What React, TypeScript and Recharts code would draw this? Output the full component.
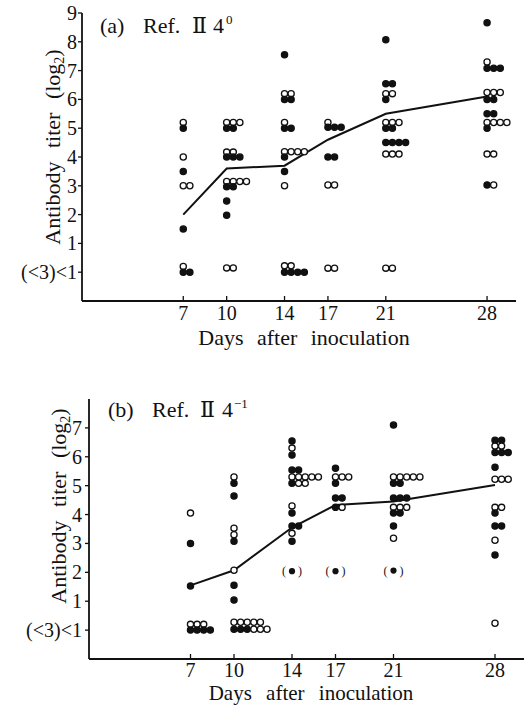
import { ComposedChart, Line, Scatter, XAxis, YAxis } from "recharts";

const ink = "#111";
const serif = "'Liberation Serif', 'DejaVu Serif', serif";

const days = [7, 10, 14, 17, 21, 28];
const meanA = [2.0, 3.6, 3.7, 4.6, 5.5, 6.1];
const meanB = [1.55, 2.07, 3.55, 4.33, 4.45, 5.02];
const ticksA = [0, 1, 2, 3, 4, 5, 6, 7, 8, 9];
const ticksB = [0, 1, 2, 3, 4, 5, 6, 7];
const lowLabel = "(<3)<1";

// [day, titer, marks left to right]  o = open circle, f = filled circle
const rowsA: [number, number, string][] = [
  [7, 5.2, "o"], [7, 5.0, "f"], [7, 4.0, "o"], [7, 3.5, "f"], [7, 3.0, "oo"],
  [7, 1.5, "f"], [7, 0.2, "o"], [7, 0, "ff"],
  [10, 5.2, "ooo"], [10, 5.0, "ff"], [10, 4.17, "oo"], [10, 4.0, "fff"],
  [10, 3.15, "oooo"], [10, 2.97, "ff"], [10, 2.47, "f"], [10, 1.98, "f"], [10, 0.15, "oo"],
  [14, 7.55, "f"], [14, 6.2, "oo"], [14, 6.0, "ff"], [14, 5.2, "o"], [14, 5.0, "ff"],
  [14, 4.18, "oooo"], [14, 4.0, "f"], [14, 3.5, "f"], [14, 3.0, "o"],
  [14, 0.22, "oo"], [14, 0, "ffff"],
  [17, 5.2, "o"], [17, 5.03, "fff"], [17, 4.0, "ff"], [17, 3.03, "oo"], [17, 0.14, "oo"],
  [21, 8.07, "f"], [21, 6.54, "ff"], [21, 6.2, "oo"], [21, 6.0, "f"], [21, 5.2, "ooo"],
  [21, 5.0, "ff"], [21, 4.5, "ffff"], [21, 4.1, "ooo"], [21, 0.14, "oo"],
  [28, 8.66, "f"], [28, 7.3, "o"], [28, 7.08, "fff"], [28, 6.24, "ooo"], [28, 6.0, "ff"],
  [28, 5.5, "ff"], [28, 5.2, "oooo"], [28, 5.0, "f"], [28, 4.1, "oo"], [28, 3.03, "fo"],
];

const rowsB: [number, number, string][] = [
  [7, 4.05, "o"], [7, 3.0, "f"], [7, 1.53, "f"], [7, 0.2, "ooo"], [7, 0, "ffff"],
  [10, 5.3, "o"], [10, 5.08, "f"], [10, 4.64, "f"], [10, 3.53, "o"], [10, 3.3, "o"],
  [10, 3.08, "f"], [10, 2.07, "o"], [10, 1.55, "f"], [10, 1.04, "f"],
  [10, 0.27, "ooooo"], [10, 0.03, "fffooo"],
  [14, 6.55, "f"], [14, 6.3, "o"], [14, 6.06, "f"], [14, 5.54, "ff"], [14, 5.3, "ooooo"],
  [14, 5.08, "foo"], [14, 4.3, "o"], [14, 4.05, "f"], [14, 3.6, "ff"], [14, 3.35, "o"], [14, 3.08, "f"],
  [17, 5.6, "f"], [17, 5.3, "ooo"], [17, 5.08, "f"], [17, 4.57, "ff"], [17, 4.25, "fo"],
  [21, 7.1, "f"], [21, 5.3, "ooooo"], [21, 5.08, "ff"], [21, 4.57, "fff"], [21, 4.25, "ooo"],
  [21, 4.05, "ff"], [21, 3.6, "f"], [21, 3.18, "o"],
  [28, 6.57, "ff"], [28, 6.37, "oo"], [28, 6.15, "fff"], [28, 5.64, "f"], [28, 5.22, "ooo"],
  [28, 4.25, "oo"], [28, 4.05, "f"], [28, 3.6, "ff"], [28, 3.11, "o"], [28, 2.6, "f"], [28, 0.24, "o"],
];

// values shown in brackets in (b)
const bracketedB: [number, number][] = [[14, 2.04], [17, 2.04], [21, 2.06]];

const toRows = (rows: [number, number, string][]) => rows.map(([day, v, marks]) => ({ day, v, marks }));
const toMean = (means: number[]) => days.map((day, i) => ({ day, v: means[i] }));

const Marks = (props: any) => {
  const { cx, cy, payload } = props;
  return (
    <g>
      {payload.marks.split("").map((m: string, i: number) => (
        <circle key={i} cx={cx + i * 6.6} cy={cy} r={3.1} fill={m === "f" ? ink : "#fff"} stroke={ink} strokeWidth={1.3} />
      ))}
    </g>
  );
};

const Bracketed = (props: any) => {
  const { cx, cy } = props;
  return (
    <g>
      <text x={cx - 8} y={cy + 4} textAnchor="middle" fontSize={12} fontFamily={serif} fill={ink}>(</text>
      <circle cx={cx} cy={cy} r={3.1} fill={ink} />
      <text x={cx + 8} y={cy + 4} textAnchor="middle" fontSize={12} fontFamily={serif} fill={ink}>)</text>
    </g>
  );
};

const makeXTick = (gap: number) => (props: any) => {
  const { x, y, payload } = props;
  return (
    <g>
      <line x1={x} y1={y} x2={x} y2={y - 5} stroke={ink} strokeWidth={1.3} />
      <text x={x} y={y + gap} textAnchor="middle" fontSize={20} fontFamily={serif} fill={ink}>
        {payload.value}
      </text>
    </g>
  );
};

const makeYTick = (gap: number) => (props: any) => {
  const { x, y, payload } = props;
  return (
    <g>
      <line x1={x - 4} y1={y} x2={x} y2={y} stroke={ink} strokeWidth={1.3} />
      <text x={x - gap} y={y + 7} textAnchor="end" fontSize={20} fontFamily={serif} fill={ink}>
        {payload.value === 0 ? lowLabel : payload.value}
      </text>
    </g>
  );
};

const Panel = ({ rows, means, ticks, top, yMax, yAxisWidth, margin, height, xGap, yGap, extra }: any) => (
  <div style={{ position: "absolute", left: 0, top }}>
    <ComposedChart width={529} height={height} margin={margin}>
      <XAxis
        type="number"
        dataKey="day"
        domain={[0, 30]}
        ticks={days}
        height={30}
        tickSize={0}
        tickMargin={0}
        tick={makeXTick(xGap)}
        axisLine={{ stroke: ink, strokeWidth: 1.8 }}
      />
      <YAxis
        type="number"
        dataKey="v"
        domain={[-1, yMax]}
        ticks={ticks}
        width={yAxisWidth}
        tickSize={0}
        tickMargin={0}
        tick={makeYTick(yGap)}
        axisLine={{ stroke: ink, strokeWidth: 1.8 }}
      />
      <Line data={toMean(means)} dataKey="v" type="linear" stroke={ink} strokeWidth={2} dot={false} isAnimationActive={false} />
      <Scatter data={toRows(rows)} dataKey="v" shape={Marks} isAnimationActive={false} />
      {extra ? <Scatter data={extra.map(([day, v]: [number, number]) => ({ day, v }))} dataKey="v" shape={Bracketed} isAnimationActive={false} /> : null}
    </ComposedChart>
  </div>
);

const txt = { fontFamily: serif, fill: ink } as const;

export default function App() {
  return (
    <div style={{ position: "absolute", left: 0, top: 0, width: 529, height: 705, background: "#fff", overflow: "hidden" }}>
      <Panel rows={rowsA} means={meanA} ticks={ticksA} top={0} yMax={9} yAxisWidth={82}
        margin={{ top: 13, right: 13, bottom: 29, left: 0 }} height={360} xGap={19} yGap={5} />
      <Panel rows={rowsB} means={meanB} ticks={ticksB} top={380} yMax={8} yAxisWidth={89}
        margin={{ top: 19, right: 5, bottom: 16, left: 0 }} height={325} xGap={18} yGap={7} extra={bracketedB} />
      <svg width={529} height={705} style={{ position: "absolute", left: 0, top: 0, pointerEvents: "none" }}>
        <g fontSize={22} {...txt}>
          <text x={100} y={33}>(a)</text>
          <text x={143} y={33}>Ref.</text>
          <text x={192} y={33}>Ⅱ</text>
          <text x={213} y={33}>4</text>
          <text x={226} y={24} fontSize={13}>0</text>

          <text x={108} y={417}>(b)</text>
          <text x={152} y={417}>Ref.</text>
          <text x={200} y={417}>Ⅱ</text>
          <text x={222} y={417}>4</text>
          <text x={234} y={408} fontSize={13}>−1</text>

          <text x={304} y={345} textAnchor="middle" wordSpacing={8}>Days after inoculation</text>
          <text x={311} y={700} fontSize={21} textAnchor="middle" wordSpacing={9}>Days after inoculation</text>

          <text transform="translate(60,147) rotate(-90)" textAnchor="middle" wordSpacing={8}>
            Antibody titer (log<tspan fontSize={14} dy={4}>2</tspan><tspan dy={-4}>)</tspan>
          </text>
          <text transform="translate(66,506) rotate(-90)" textAnchor="middle" wordSpacing={8}>
            Antibody titer (log<tspan fontSize={14} dy={4}>2</tspan><tspan dy={-4}>)</tspan>
          </text>
        </g>
      </svg>
    </div>
  );
}
